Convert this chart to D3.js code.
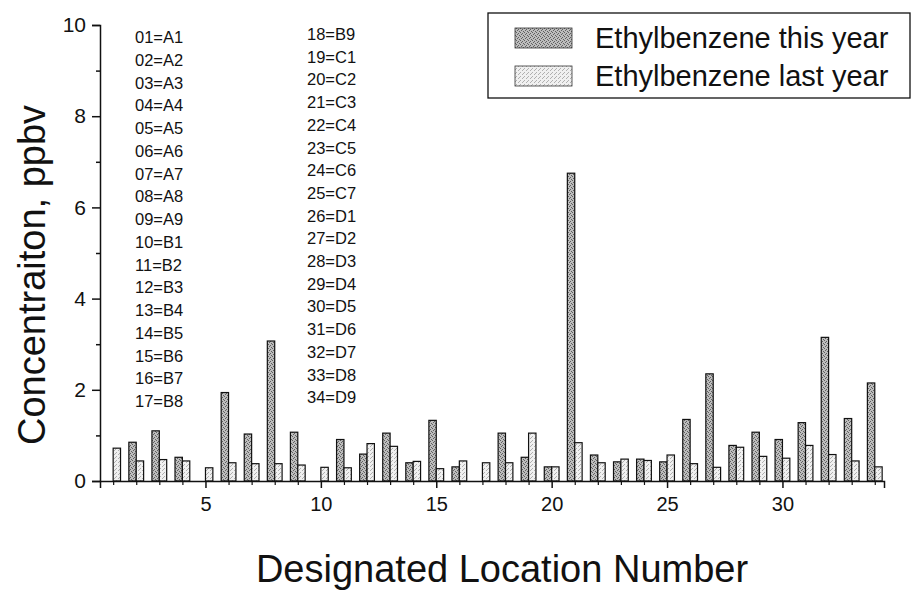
<!DOCTYPE html>
<html>
<head>
<meta charset="utf-8">
<script src="https://cdn.jsdelivr.net/npm/d3@7"></script>
<style>
  html, body { margin: 0; padding: 0; background: #fff; }
  text { font-family: Arial, "Liberation Sans", sans-serif; fill: #111; }
</style>
</head>
<body>
<svg id="chart" width="911" height="595"></svg>
<script>
const locations = d3.range(1, 35);
const thisYear = [0, 0.85, 1.1, 0.52, 0, 1.94, 1.03, 3.07, 1.07, 0, 0.91, 0.59, 1.05, 0.4, 1.33, 0.31, 0, 1.05, 0.52, 0.31, 6.75, 0.57, 0.42, 0.48, 0.42, 1.35, 2.35, 0.78, 1.07, 0.91, 1.28, 3.15, 1.37, 2.15];
const lastYear = [0.72, 0.44, 0.47, 0.44, 0.29, 0.4, 0.38, 0.38, 0.35, 0.3, 0.29, 0.82, 0.76, 0.43, 0.27, 0.44, 0.4, 0.4, 1.05, 0.31, 0.84, 0.4, 0.48, 0.45, 0.57, 0.38, 0.3, 0.74, 0.54, 0.5, 0.78, 0.58, 0.44, 0.31];
const seriesNames = ["Ethylbenzene this year", "Ethylbenzene last year"];
const yTicks = [0, 2, 4, 6, 8, 10];
const yMinorTicks = [1, 3, 5, 7, 9];
const xTicks = [5, 10, 15, 20, 25, 30];
const keyCol1 = ["01=A1","02=A2","03=A3","04=A4","05=A5","06=A6","07=A7","08=A8","09=A9","10=B1","11=B2","12=B3","13=B4","14=B5","15=B6","16=B7","17=B8"];
const keyCol2 = ["18=B9","19=C1","20=C2","21=C3","22=C4","23=C5","24=C6","25=C7","26=D1","27=D2","28=D3","29=D4","30=D5","31=D6","32=D7","33=D8","34=D9"];

const svg = d3.select("#chart");
const defs = svg.append("defs");

function stipple(id, bg, fg, dens) {
  const p = defs.append("pattern").attr("id", id).attr("patternUnits", "userSpaceOnUse")
    .attr("width", 4).attr("height", 4);
  p.append("rect").attr("width", 4).attr("height", 4).attr("fill", bg);
  dens.forEach(([x, y]) => p.append("rect").attr("x", x).attr("y", y).attr("width", 1).attr("height", 1).attr("fill", fg));
}
stipple("darkPat", "#bdbdbd", "#606060", [[0,0],[2,1],[1,2],[3,3]]);
stipple("lightPat", "#f0f0f0", "#b0b0b0", [[0,0],[2,2],[3,1]]);

const plotLeft = 100, plotRight = 884, plotTop = 25, plotBottom = 481;
const x = d3.scaleLinear().domain([0.43, 34.4]).range([plotLeft, plotRight]);
const y = d3.scaleLinear().domain([0, 10]).range([plotBottom, plotTop]);
const bw = 0.32;

// bars
const g = svg.append("g");
g.selectAll("rect.this").data(locations.filter((d, i) => thisYear[i] > 0)).join("rect")
  .attr("x", d => x(d - bw))
  .attr("width", d => x(d) - x(d - bw))
  .attr("y", d => y(thisYear[d - 1]))
  .attr("height", d => y(0) - y(thisYear[d - 1]))
  .attr("fill", "url(#darkPat)").attr("stroke", "#111").attr("stroke-width", 1.2);
g.selectAll("rect.last").data(locations.filter((d, i) => lastYear[i] > 0)).join("rect")
  .attr("x", d => x(d))
  .attr("width", d => x(d + bw) - x(d))
  .attr("y", d => y(lastYear[d - 1]))
  .attr("height", d => y(0) - y(lastYear[d - 1]))
  .attr("fill", "url(#lightPat)").attr("stroke", "#111").attr("stroke-width", 1.2);

// y axis
const yAxis = d3.axisLeft(y).tickValues(yTicks).tickSize(8).tickPadding(6).tickFormat(d3.format("d"));
const ya = svg.append("g").attr("transform", `translate(${plotLeft},0)`).call(yAxis);
ya.select(".domain").attr("stroke", "#111").attr("stroke-width", 1.5);
ya.selectAll(".tick line").attr("stroke", "#111").attr("stroke-width", 1.5);
ya.selectAll("text").style("font-size", "21px").attr("fill", "#111");
svg.append("g").attr("transform", `translate(${plotLeft},0)`)
  .call(d3.axisLeft(y).tickValues(yMinorTicks).tickSize(4).tickFormat(""))
  .call(s => s.select(".domain").remove())
  .selectAll("line").attr("stroke", "#111").attr("stroke-width", 1.5);

// x axis
const xAxis = d3.axisBottom(x).tickValues(xTicks).tickSize(7).tickPadding(9).tickFormat(d3.format("d"));
const xa = svg.append("g").attr("transform", `translate(0,${plotBottom})`).call(xAxis);
xa.select(".domain").attr("stroke", "#111").attr("stroke-width", 1.5);
xa.selectAll(".tick line").attr("stroke", "#111").attr("stroke-width", 1.5);
xa.selectAll("text").style("font-size", "20px").attr("fill", "#111");
svg.append("g").attr("transform", `translate(0,${plotBottom})`)
  .call(d3.axisBottom(x).tickValues(locations.filter(d => d % 5 !== 0)).tickSize(4).tickFormat(""))
  .call(s => s.select(".domain").remove())
  .selectAll("line").attr("stroke", "#111").attr("stroke-width", 1.2);

// axis titles
svg.append("text").attr("x", 502).attr("y", 582)
  .attr("text-anchor", "middle").style("font-size", "38px").text("Designated Location Number");
svg.append("text").attr("transform", `translate(45,275) rotate(-90)`)
  .attr("text-anchor", "middle").style("font-size", "38px").text("Concentraiton, ppbv");

// location key
svg.append("g").selectAll("text").data(keyCol1).join("text")
  .attr("x", 135).attr("y", (d, i) => 43 + i * 22.75)
  .style("font-size", "16.5px").text(d => d);
svg.append("g").selectAll("text").data(keyCol2).join("text")
  .attr("x", 307).attr("y", (d, i) => 40 + i * 22.7)
  .style("font-size", "16.5px").text(d => d);

// legend
const lg = svg.append("g");
lg.append("rect").attr("x", 488).attr("y", 13).attr("width", 422).attr("height", 85)
  .attr("fill", "#fff").attr("stroke", "#111").attr("stroke-width", 1.3);
const pats = ["url(#darkPat)", "url(#lightPat)"];
seriesNames.forEach((n, i) => {
  lg.append("rect").attr("x", 515).attr("y", 28 + i * 38).attr("width", 57).attr("height", 20)
    .attr("fill", pats[i]).attr("stroke", "#333").attr("stroke-width", 0.8);
  lg.append("text").attr("x", 595).attr("y", 48 + i * 38).style("font-size", "29px").text(n);
});
</script>
</body>
</html>
